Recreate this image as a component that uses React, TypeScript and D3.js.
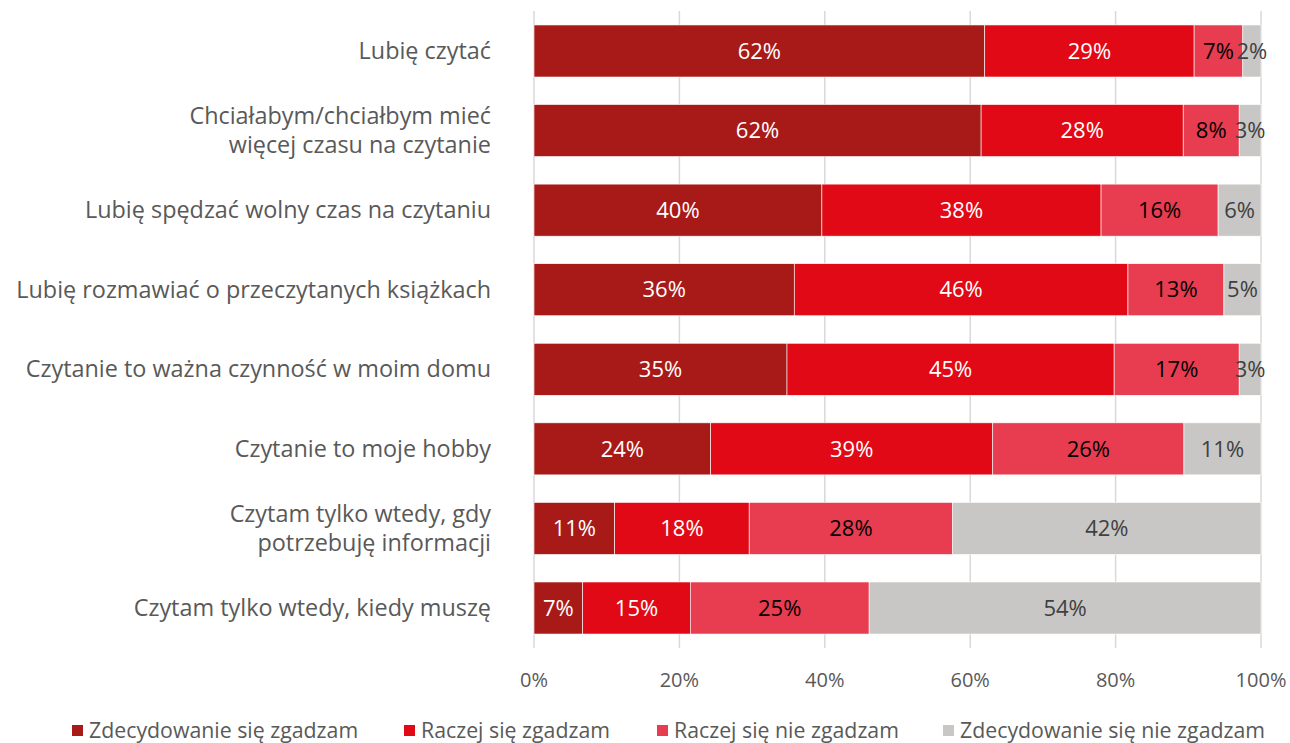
import React from "react";
import * as d3 from "d3";

const categories: string[][] = [
  ["Lubię czytać"],
  ["Chciałabym/chciałbym mieć", "więcej czasu na czytanie"],
  ["Lubię spędzać wolny czas na czytaniu"],
  ["Lubię rozmawiać o przeczytanych książkach"],
  ["Czytanie to ważna czynność w moim domu"],
  ["Czytanie to moje hobby"],
  ["Czytam tylko wtedy, gdy", "potrzebuję informacji"],
  ["Czytam tylko wtedy, kiedy muszę"],
];

const seriesNames = [
  "Zdecydowanie się zgadzam",
  "Raczej się zgadzam",
  "Raczej się nie zgadzam",
  "Zdecydowanie się nie zgadzam",
];

const strongAgree = [62.0, 61.5, 39.6, 35.8, 34.8, 24.3, 11.1, 6.7];
const ratherAgree = [28.8, 27.8, 38.4, 45.9, 45.0, 38.8, 18.5, 14.8];
const ratherDisagree = [6.7, 7.7, 16.1, 13.2, 17.2, 26.3, 28.0, 24.6];
const strongDisagree = [2.5, 3.0, 5.9, 5.1, 3.0, 10.6, 42.4, 53.9];

const labelValues = [
  [62, 62, 40, 36, 35, 24, 11, 7],
  [29, 28, 38, 46, 45, 39, 18, 15],
  [7, 8, 16, 13, 17, 26, 28, 25],
  [2, 3, 6, 5, 3, 11, 42, 54],
];

const ticks = [0, 20, 40, 60, 80, 100];

const colors = ["#A81A18", "#E10915", "#E83C50", "#C8C7C6"];
const labelColors = ["#ffffff", "#ffffff", "#000000", "#404040"];

const FONT = "'Open Sans', sans-serif";

export default function App() {
  const width = 1290;
  const height = 743;
  const x = d3.scaleLinear().domain([0, 100]).range([534, 1261]);
  const y = d3
    .scaleBand<number>()
    .domain(d3.range(categories.length))
    .range([11.2, 647.8])
    .paddingInner(0.346)
    .paddingOuter(0.173);

  const rows = categories.map((_, i) => ({
    i,
    v0: strongAgree[i],
    v1: ratherAgree[i],
    v2: ratherDisagree[i],
    v3: strongDisagree[i],
  }));
  const stack = d3.stack<any>().keys(["v0", "v1", "v2", "v3"]);
  const stacked = stack(rows);

  const legendX = [72, 404, 657, 943];

  return (
    <svg
      width={width}
      height={height}
      style={{ position: "absolute", left: 0, top: 0, fontFamily: FONT }}
    >
      <rect width={width} height={height} fill="#fff" />
      {ticks.map((t) => (
        <line
          key={t}
          x1={x(t)}
          x2={x(t)}
          y1={11}
          y2={648}
          stroke="#D9D9D9"
          strokeWidth={1.5}
        />
      ))}
      {stacked.map((layer, si) =>
        layer.map((d, i) => (
          <rect
            key={`${si}-${i}`}
            x={x(d[0])}
            y={y(i)}
            width={x(d[1]) - x(d[0])}
            height={y.bandwidth()}
            fill={colors[si]}
            stroke="#ffffff"
            strokeWidth={0.6}
          />
        ))
      )}
      {stacked.map((layer, si) =>
        layer.map((d, i) => (
          <text
            key={`t${si}-${i}`}
            x={(x(d[0]) + x(d[1])) / 2}
            y={(y(i) as number) + y.bandwidth() / 2}
            dy="0.35em"
            textAnchor="middle"
            fontSize={22}
            fill={labelColors[si]}
          >
            {labelValues[si][i]}%
          </text>
        ))
      )}
      {categories.map((lines, i) => {
        const cy = (y(i) as number) + y.bandwidth() / 2;
        const lh = 29;
        return (
          <text
            key={`c${i}`}
            x={491}
            textAnchor="end"
            fontSize={23.4}
            fill="#595959"
          >
            {lines.map((ln, k) => (
              <tspan
                key={k}
                x={491}
                y={cy + (k - (lines.length - 1) / 2) * lh}
                dy="0.35em"
              >
                {ln}
              </tspan>
            ))}
          </text>
        );
      })}
      {ticks.map((t) => (
        <text
          key={`tk${t}`}
          x={x(t)}
          y={680}
          dy="0.35em"
          textAnchor="middle"
          fontSize={20}
          fill="#595959"
        >
          {t}%
        </text>
      ))}
      {seriesNames.map((n, si) => (
        <g key={`l${si}`}>
          <rect
            x={legendX[si]}
            y={725}
            width={11}
            height={11}
            fill={colors[si]}
          />
          <text
            x={legendX[si] + 17}
            y={730.5}
            dy="0.35em"
            fontSize={21.3}
            fill="#595959"
          >
            {n}
          </text>
        </g>
      ))}
    </svg>
  );
}
